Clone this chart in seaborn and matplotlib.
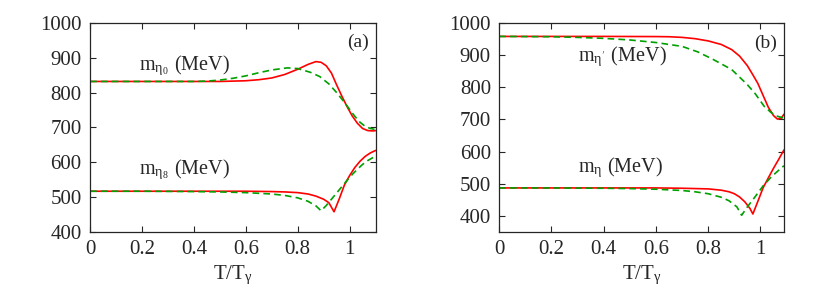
import pandas as pd
import seaborn as sns
import matplotlib
matplotlib.use("Agg")
import matplotlib.pyplot as plt

# panel (a): eta0 and eta8 masses
a_eta0_red_x = [0, 0.1, 0.2, 0.3, 0.4, 0.5, 0.55, 0.6, 0.65, 0.7, 0.75, 0.8, 0.84, 0.87,
                0.89, 0.91, 0.93, 0.95, 0.97, 0.99, 1.01, 1.03, 1.05, 1.07, 1.09, 1.1]
a_eta0_red_y = [832, 832, 832, 832, 832, 832, 833, 834, 837, 842, 852, 867, 881, 889,
                887, 877, 856, 822, 790, 760, 733, 712, 697, 691, 690, 691]
a_eta0_green_x = [0, 0.1, 0.2, 0.3, 0.4, 0.45, 0.5, 0.55, 0.6, 0.65, 0.7, 0.76, 0.8, 0.85,
                  0.885, 0.92, 0.95, 0.98, 1.0, 1.02, 1.04, 1.06, 1.08, 1.1]
a_eta0_green_y = [832, 832, 832, 832, 832, 833, 836, 841, 848, 857, 865, 871, 869, 858,
                  846, 825, 800, 772, 752, 732, 715, 703, 697, 694]
a_eta8_red_x = [0, 0.2, 0.4, 0.6, 0.7, 0.75, 0.8, 0.84, 0.87, 0.9, 0.92, 0.94,
                0.96, 0.98, 1.0, 1.02, 1.04, 1.06, 1.08, 1.1]
a_eta8_red_y = [517, 517, 517, 517, 516, 515, 513, 509, 503, 494, 484, 458,
                495, 535, 562, 585, 603, 617, 627, 634]
a_eta8_green_x = [0, 0.2, 0.4, 0.5, 0.6, 0.7, 0.75, 0.8, 0.84, 0.87, 0.89, 0.91,
                  0.93, 0.95, 0.97, 0.99, 1.01, 1.03, 1.05, 1.07, 1.1]
a_eta8_green_y = [517, 517, 516, 515, 513, 509, 505, 498, 488, 475, 461, 476,
                  494, 512, 530, 548, 565, 580, 594, 605, 618]

# panel (b): eta' and eta masses
b_etap_red_x = [0, 0.2, 0.4, 0.6, 0.65, 0.7, 0.75, 0.8, 0.85, 0.89, 0.92, 0.95, 0.97, 0.99,
                1.01, 1.03, 1.05, 1.065, 1.08, 1.09]
b_etap_red_y = [958, 958, 958, 957.5, 957, 955, 951, 944, 933, 917, 897, 867, 840, 812,
                775, 738, 712, 701, 704, 716]
b_etap_green_x = [0, 0.2, 0.3, 0.4, 0.5, 0.6, 0.7, 0.76, 0.82, 0.89, 0.95, 0.98,
                  1.015, 1.04, 1.06, 1.09]
b_etap_green_y = [958, 957, 955, 952, 947, 939, 927, 910, 886, 855, 808, 780,
                  740, 722, 711, 704]
b_eta_red_x = [0, 0.2, 0.4, 0.6, 0.7, 0.8, 0.85, 0.88, 0.9, 0.92, 0.94, 0.96, 0.971,
               0.99, 1.01, 1.03, 1.05, 1.07, 1.09]
b_eta_red_y = [487, 487, 487, 487, 486, 484, 480, 475, 469, 459, 444, 423, 406,
               445, 487, 518, 548, 576, 605]
b_eta_green_x = [0, 0.2, 0.4, 0.5, 0.6, 0.7, 0.75, 0.8, 0.85, 0.88, 0.91, 0.928,
                 0.95, 0.98, 1.01, 1.04, 1.07, 1.09]
b_eta_green_y = [487, 487, 486, 485, 483, 479, 475, 469, 458, 447, 428, 402,
                 428, 460, 493, 520, 542, 556]

x_ticks = [0, 0.2, 0.4, 0.6, 0.8, 1]
x_tick_labels = ["0", "0.2", "0.4", "0.6", "0.8", "1"]
y_ticks = [400, 500, 600, 700, 800, 900, 1000]

sns.set_style("ticks")
plt.rcParams["font.family"] = ["Liberation Serif", "DejaVu Serif"]
plt.rcParams["mathtext.fontset"] = "stix"

RED = "#ff0000"
GREEN = "#00a000"

fig = plt.figure(figsize=(8.3, 2.9), dpi=100)
ax_a = fig.add_axes([0.1085, 0.2, 0.344, 0.721])
ax_b = fig.add_axes([0.6015, 0.2, 0.343, 0.721])


def draw(ax, xs, ys, color, dashed):
    df = pd.DataFrame({"T": xs, "m": ys})
    sns.lineplot(data=df, x="T", y="m", ax=ax, color=color, linewidth=1.2,
                 estimator=None, sort=False)
    if dashed:
        ax.lines[-1].set_dashes((4, 2.5))


draw(ax_a, a_eta0_red_x, a_eta0_red_y, RED, False)
draw(ax_a, a_eta0_green_x, a_eta0_green_y, GREEN, True)
draw(ax_a, a_eta8_red_x, a_eta8_red_y, RED, False)
draw(ax_a, a_eta8_green_x, a_eta8_green_y, GREEN, True)

draw(ax_b, b_etap_red_x, b_etap_red_y, RED, False)
draw(ax_b, b_etap_green_x, b_etap_green_y, GREEN, True)
draw(ax_b, b_eta_red_x, b_eta_red_y, RED, False)
draw(ax_b, b_eta_green_x, b_eta_green_y, GREEN, True)

for ax, ylo, xhi in [(ax_a, 400, 1.1), (ax_b, 350, 1.09)]:
    ax.set_xlim(0, xhi)
    ax.set_ylim(ylo, 1000)
    ax.set_xticks(x_ticks)
    ax.set_xticklabels(x_tick_labels)
    ax.set_yticks(y_ticks)
    ax.tick_params(direction="in", top=True, right=True, length=4, width=0.8,
                   labelsize=15, pad=6)
    for sp in ax.spines.values():
        sp.set_linewidth(0.9)
    ax.set_xlabel(r"T/T$_{\mathregular{\gamma}}$", fontsize=15, labelpad=3)
    ax.set_ylabel("")

lab = dict(fontsize=14.5, va="center")
ax_a.text(0.19, 878, r"m$_{\mathregular{\eta}_{\mathregular{0}}}$ (MeV)", **lab)
ax_a.text(0.19, 578, r"m$_{\mathregular{\eta}_{\mathregular{8}}}$ (MeV)", **lab)
ax_a.text(1.075, 943, "(a)", fontsize=14, va="center", ha="right")

ax_b.text(0.3, 893, r"m$_{\mathregular{\eta}'}$ (MeV)", **lab)
ax_b.text(0.3, 549, r"m$_{\mathregular{\eta}}$ (MeV)", **lab)
ax_b.text(1.065, 938, "(b)", fontsize=14, va="center", ha="right")

fig.savefig("out.png", dpi=100)
